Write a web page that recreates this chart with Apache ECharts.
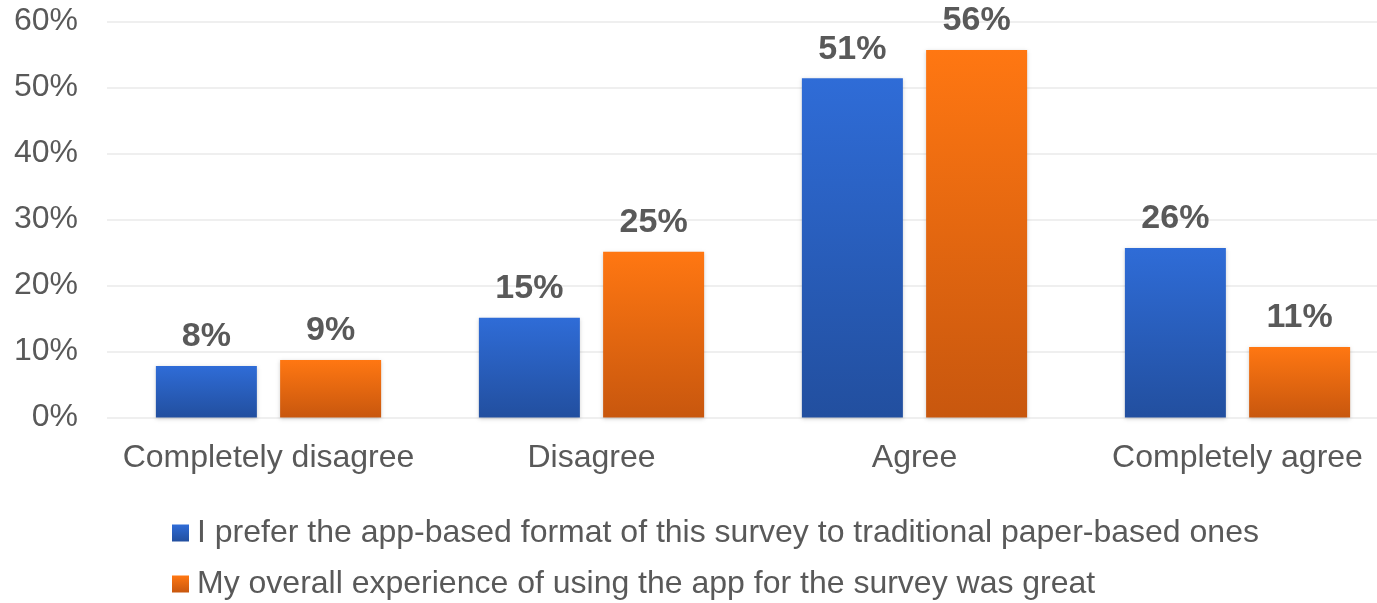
<!DOCTYPE html>
<html><head><meta charset="utf-8">
<script src="https://cdn.jsdelivr.net/npm/echarts@6/dist/echarts.min.js"></script>
<style>html,body{margin:0;padding:0;background:#fff}#c{width:1377px;height:603px}</style>
</head><body><div id="c"></div>
<script>
const categories = ['Completely disagree', 'Disagree', 'Agree', 'Completely agree'];
const seriesNames = ['I prefer the app-based format of this survey to traditional paper-based ones', 'My overall experience of using the app for the survey was great'];
const preferApp = [7.8, 15.1, 51.4, 25.7];
const greatExperience = [8.7, 25.1, 55.7, 10.7];
const yTicks = [0, 10, 20, 30, 40, 50, 60];

const font = '"Liberation Sans", Arial, sans-serif';
const grad = (a, b) => new echarts.graphic.LinearGradient(0, 0, 0, 1, [{offset: 0, color: a}, {offset: 1, color: b}]);
const chart = echarts.init(document.getElementById('c'));
const labelCfg = {
  show: true, position: 'top', distance: 12,
  formatter: p => Math.round(p.value) + '%',
  fontFamily: font, fontSize: 34, fontWeight: 'bold', color: '#595959'
};
chart.setOption({
  animation: false,
  grid: {left: 107, top: 21.5, width: 1292, height: 396, outerBoundsMode: 'none', containLabel: false},
  xAxis: {
    type: 'category', data: categories,
    axisLine: {show: false}, axisTick: {show: false},
    axisLabel: {interval: 0, fontFamily: font, fontSize: 32, color: '#595959', margin: 25}
  },
  yAxis: {
    type: 'value', min: yTicks[0], max: yTicks[yTicks.length - 1], interval: 10,
    axisLabel: {formatter: '{value}%', fontFamily: font, fontSize: 32, color: '#595959', margin: 29},
    splitLine: {lineStyle: {color: '#efefef', width: 2}},
    axisLine: {show: false}, axisTick: {show: false}
  },
  legend: {
    orient: 'vertical', left: 172, top: 517, padding: 0, itemWidth: 17, itemHeight: 17, itemGap: 19,
    icon: 'rect',
    textStyle: {fontFamily: font, fontSize: 32, color: '#595959', padding: [0, 0, 0, 3]},
    data: seriesNames
  },
  series: [
    {
      name: seriesNames[0], type: 'bar', data: preferApp, barWidth: 101, barGap: '23%',
      itemStyle: {color: grad('#2f6cd7', '#224f9f'), shadowBlur: 4, shadowColor: 'rgba(0,0,0,0.18)', shadowOffsetY: 1},
      label: labelCfg
    },
    {
      name: seriesNames[1], type: 'bar', data: greatExperience, barWidth: 101,
      itemStyle: {color: grad('#ff7712', '#c8570e'), shadowBlur: 4, shadowColor: 'rgba(0,0,0,0.18)', shadowOffsetY: 1},
      label: labelCfg
    }
  ]
});
</script></body></html>
